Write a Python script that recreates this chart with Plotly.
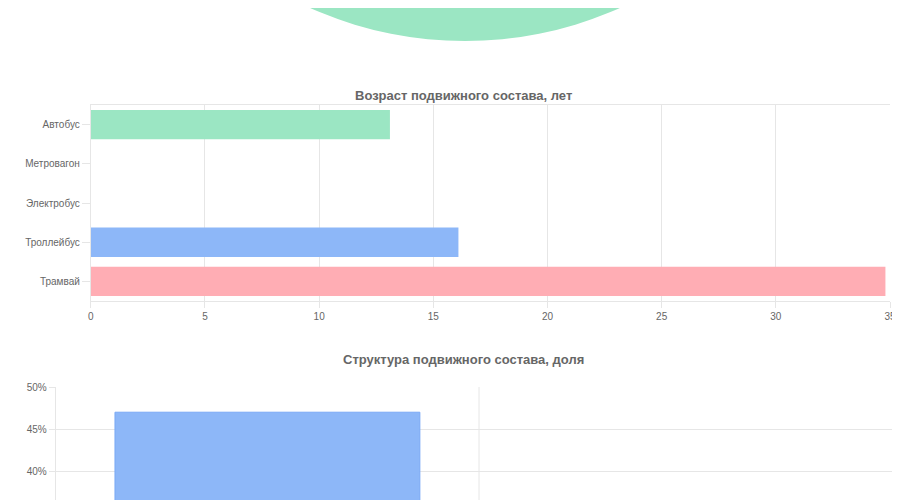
import plotly.graph_objects as go

# Возраст подвижного состава, лет
age_types = ["Автобус", "Метровагон", "Электробус", "Троллейбус", "Трамвай"]
age_values = [13.1, 0, 0, 16.1, 34.8]
age_colors = ["#9be6c3", "#8db7f8", "#8db7f8", "#8db7f8", "#ffadb4"]

# Структура подвижного состава, доля (видна только верхняя часть)
share_cats = ["1", "2"]
share_values = [47, 0]

fig = go.Figure()

fig.add_trace(go.Bar(
    y=age_types, x=age_values, orientation="h",
    marker=dict(color=age_colors, line=dict(width=0)),
    xaxis="x", yaxis="y", width=0.75, hoverinfo="x+y",
))
fig.add_trace(go.Bar(
    x=share_cats, y=share_values,
    marker=dict(color="#8db7f8", line=dict(color="#7aa9f5", width=1)),
    xaxis="x2", yaxis="y2", width=0.72,
))

grid = "#e6e6e6"
tick_font = dict(family="Liberation Sans, Arial", size=10, color="#666")

fig.update_layout(
    width=900, height=500,
    margin=dict(l=0, r=0, t=0, b=0, autoexpand=False),
    paper_bgcolor="white", plot_bgcolor="white",
    showlegend=False,
    xaxis=dict(domain=[0.092, 0.98], anchor="y", range=[0, 35], dtick=5,
               gridcolor=grid, zeroline=False, showline=True, linecolor=grid,
               mirror=True, tickfont=tick_font, ticks="outside", ticklen=6,
               tickcolor=grid, automargin=False),
    yaxis=dict(domain=[0.414, 0.806], anchor="x", autorange="reversed",
               categoryorder="array", categoryarray=age_types,
               gridcolor=grid, showgrid=False, tickfont=tick_font,
               ticks="outside", ticklen=8, tickcolor=grid, showline=True,
               linecolor=grid, automargin=False),
    xaxis2=dict(domain=[0.053, 0.994], anchor="y2", showticklabels=False,
                showgrid=False, range=[-0.5, 1.5], automargin=False),
    yaxis2=dict(domain=[0, 0.242], anchor="x2", range=[35.6, 50], dtick=5,
                ticksuffix="%", gridcolor=grid, tickfont=tick_font,
                showline=True, linecolor=grid, ticks="outside", ticklen=6,
                tickcolor=grid, zeroline=False, automargin=False),
    shapes=[
        dict(type="circle", xref="paper", yref="paper",
             x0=(457 - 380) / 900, x1=(457 + 380) / 900,
             y0=1 - 33 / 500, y1=1 - 33 / 500 + 760 / 500,
             fillcolor="#9be6c3", line=dict(width=0), layer="below"),
        dict(type="line", xref="paper", yref="paper",
             x0=471 / 900, x1=471 / 900, y0=0, y1=0.242,
             line=dict(color=grid, width=1)),
        dict(type="line", xref="paper", yref="paper",
             x0=0.994, x1=0.994, y0=0, y1=0.242,
             line=dict(color=grid, width=1)),
    ],
    annotations=[
        dict(text="<b>Возраст подвижного состава, лет</b>", xref="paper",
             yref="paper", x=455 / 900, y=1 - 78 / 500, showarrow=False,
             font=dict(family="Liberation Sans, Arial", size=13, color="#666")),
        dict(text="<b>Структура подвижного состава, доля</b>", xref="paper",
             yref="paper", x=455 / 900, y=1 - 361 / 500, showarrow=False,
             font=dict(family="Liberation Sans, Arial", size=13, color="#666")),
    ],
)

fig.write_html("out.html")
